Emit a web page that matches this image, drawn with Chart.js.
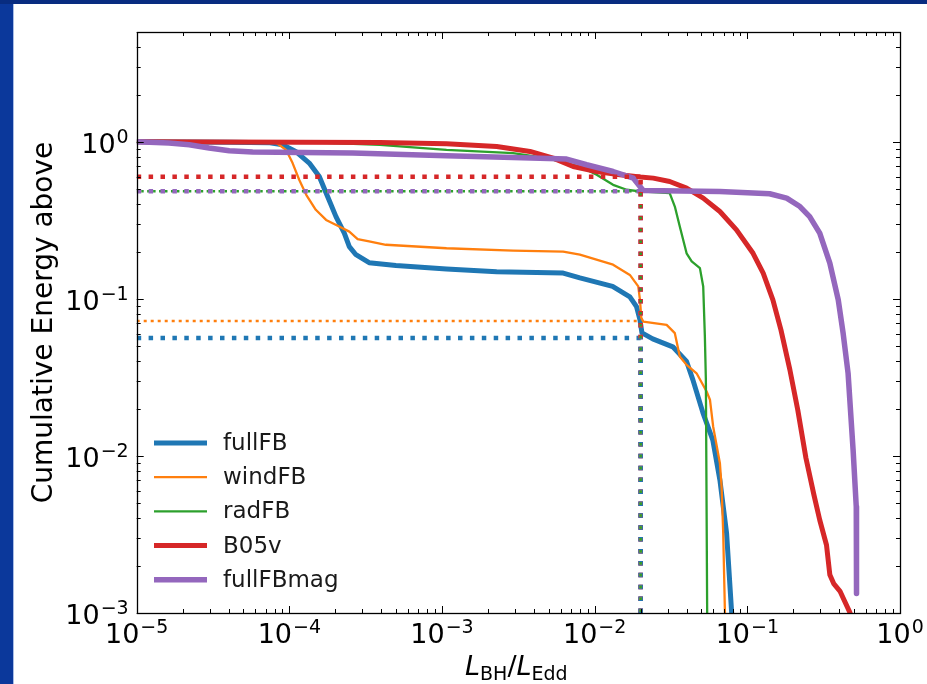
<!DOCTYPE html>
<html>
<head>
<meta charset="utf-8">
<script src="https://cdn.jsdelivr.net/npm/chart.js@4.4.1/dist/chart.umd.min.js"></script>
<style>
  html, body { margin: 0; padding: 0; }
  body { width: 927px; height: 684px; overflow: hidden; position: relative; background: #0b389b; }
  #topband { position: absolute; left: 0; top: 0; width: 927px; height: 4px; background: #082c80; }
  #panel { position: absolute; left: 14px; top: 4px; width: 913px; height: 680px; background: #fff; }
  #edge { position: absolute; left: 13px; top: 4px; width: 1px; height: 680px; background: #a9bde6; }
  #c { position: absolute; left: 0; top: 0; }
</style>
</head>
<body>
<div id="topband"></div>
<div id="panel"></div>
<div id="edge"></div>
<canvas id="c" width="927" height="684"></canvas>
<script>
/**************** DATA ****************/
const seriesNames = ["fullFB", "windFB", "radFB", "B05v", "fullFBmag"];
const seriesColors = ["#1f77b4", "#ff7f0e", "#2ca02c", "#d62728", "#9467bd"];
const seriesWidths = [5, 2.3, 2.3, 5, 5.5];

const fullFB_x = [1e-5, 4.08e-5, 7.46e-5, 9.03e-5, 1.10e-4, 1.35e-4, 1.57e-4, 1.78e-4, 2.02e-4, 2.29e-4, 2.47e-4, 2.73e-4, 3.33e-4, 4.99e-4, 1.07e-3, 2.28e-3, 6.22e-3, 8.0e-3, 1.31e-2, 1.70e-2, 1.88e-2, 1.98e-2, 2.04e-2, 2.40e-2, 3.25e-2, 4.0e-2, 4.40e-2, 5.12e-2, 5.94e-2, 6.61e-2, 7.31e-2, 7.95e-2];
const fullFB_y = [1.0, 0.993, 0.985, 0.957, 0.868, 0.732, 0.601, 0.448, 0.334, 0.262, 0.215, 0.191, 0.170, 0.163, 0.155, 0.149, 0.146, 0.136, 0.120, 0.103, 0.0893, 0.0735, 0.0607, 0.0556, 0.0495, 0.0399, 0.0305, 0.0188, 0.0126, 0.00703, 0.00323, 0.0009];

const windFB_x = [1e-5, 6.41e-5, 8.16e-5, 9.51e-5, 1.05e-4, 1.16e-4, 1.29e-4, 1.49e-4, 1.74e-4, 2.12e-4, 2.47e-4, 2.80e-4, 3.33e-4, 4.29e-4, 1.07e-3, 2.92e-3, 6.22e-3, 8.0e-3, 1.32e-2, 1.70e-2, 1.93e-2, 1.98e-2, 2.02e-2, 2.08e-2, 2.96e-2, 3.35e-2, 3.61e-2, 4.0e-2, 4.65e-2, 5.41e-2, 5.69e-2, 5.97e-2, 6.61e-2, 6.78e-2, 6.95e-2, 7.15e-2];
const windFB_y = [1.0, 1.0, 0.99, 0.889, 0.732, 0.573, 0.460, 0.369, 0.318, 0.289, 0.268, 0.240, 0.232, 0.221, 0.210, 0.203, 0.200, 0.191, 0.165, 0.142, 0.120, 0.0986, 0.0757, 0.0717, 0.0683, 0.0605, 0.0429, 0.038, 0.0336, 0.0257, 0.0228, 0.0154, 0.0090, 0.00638, 0.00322, 0.0009];

const radFB_x = [1e-5, 1.17e-4, 3.92e-4, 1.07e-3, 2.92e-3, 4.84e-3, 8.0e-3, 1.03e-2, 1.32e-2, 1.62e-2, 1.98e-2, 3.1e-2, 3.35e-2, 3.61e-2, 4.0e-2, 4.32e-2, 4.89e-2, 5.14e-2, 5.27e-2, 5.35e-2, 5.46e-2];
const radFB_y = [1.0, 1.0, 0.957, 0.889, 0.847, 0.787, 0.696, 0.616, 0.532, 0.495, 0.484, 0.471, 0.387, 0.289, 0.195, 0.173, 0.157, 0.120, 0.0575, 0.0305, 0.0009];

const B05v_x = [1e-5, 3.92e-4, 1.07e-3, 2.28e-3, 3.77e-3, 5.35e-3, 7.23e-3, 1.03e-2, 1.46e-2, 1.98e-2, 2.42e-2, 3.1e-2, 4.0e-2, 5.14e-2, 6.61e-2, 8.49e-2, 0.109, 0.127, 0.147, 0.166, 0.190, 0.214, 0.242, 0.273, 0.298, 0.330, 0.347, 0.369, 0.404, 0.469, 0.49];
const B05v_y = [1.0, 0.99, 0.971, 0.933, 0.868, 0.787, 0.696, 0.647, 0.616, 0.596, 0.587, 0.559, 0.507, 0.438, 0.360, 0.275, 0.195, 0.146, 0.0986, 0.0635, 0.0353, 0.0196, 0.0097, 0.00565, 0.00391, 0.00271, 0.00175, 0.00153, 0.00138, 0.00101, 0.0009];

const fullFBmag_x = [1e-5, 1.63e-5, 2.21e-5, 2.98e-5, 4.04e-5, 5.75e-5, 1.22e-4, 2.60e-4, 1.07e-3, 2.92e-3, 6.55e-3, 8.85e-3, 1.32e-2, 1.79e-2, 1.98e-2, 2.08e-2, 6.61e-2, 0.140, 0.181, 0.221, 0.256, 0.298, 0.347, 0.394, 0.424, 0.457, 0.493, 0.517, 0.519];
const fullFBmag_y = [1.0, 0.981, 0.957, 0.912, 0.877, 0.860, 0.855, 0.847, 0.814, 0.794, 0.776, 0.714, 0.647, 0.587, 0.519, 0.490, 0.483, 0.467, 0.438, 0.387, 0.334, 0.262, 0.169, 0.0986, 0.0605, 0.0336, 0.0109, 0.00475, 0.00133];

// dotted guides: level of each series at L/LEdd = guideX
const guideX = 0.02;
const guideLevels = [0.0564, 0.0724, 0.484, 0.598, 0.484];

const xMin = 1e-5, xMax = 1;
const yMin = 1e-3, yMax = 5;
const xMajorTicks = [1e-5, 1e-4, 1e-3, 1e-2, 1e-1, 1e0];
const xTickExps = ["\u22125", "\u22124", "\u22123", "\u22122", "\u22121", "0"];
const yMajorTicks = [1e-3, 1e-2, 1e-1, 1e0];
const yTickExps = ["\u22123", "\u22122", "\u22121", "0"];

/**************** DATASETS ****************/
const xsList = [fullFB_x, windFB_x, radFB_x, B05v_x, fullFBmag_x];
const ysList = [fullFB_y, windFB_y, radFB_y, B05v_y, fullFBmag_y];
const pts = (xs, ys) => xs.map((x, i) => ({ x, y: ys[i] }));

const base = { pointRadius: 0, tension: 0, fill: false, clip: 0, borderJoinStyle: "round" };
const datasets = [];

// solid curves (later series on top)
seriesNames.forEach((name, i) => {
  datasets.push(Object.assign({}, base, {
    label: name, legend: true,
    data: pts(xsList[i], ysList[i]),
    borderColor: seriesColors[i], borderWidth: seriesWidths[i],
    order: 20 - i
  }));
});

// horizontal dotted guides
const hStyles = [
  { w: 4.5, dash: [4.5, 7.4], off: 0 },
  { w: 2.5, dash: [3, 4], off: 0 },
  { w: 2.5, dash: [2.5, 3.45], off: -4.5 },
  { w: 4.5, dash: [4.5, 7.4], off: 0 },
  { w: 4.5, dash: [4.5, 7.4], off: 0 }
];
seriesNames.forEach((name, i) => {
  datasets.push(Object.assign({}, base, {
    label: name + " level",
    data: [{ x: xMin, y: guideLevels[i] }, { x: guideX, y: guideLevels[i] }],
    borderColor: seriesColors[i], borderWidth: hStyles[i].w,
    borderDash: hStyles[i].dash, borderDashOffset: hStyles[i].off, borderCapStyle: "butt",
    order: 14 - i
  }));
});

// vertical dotted guides (drawn from the bottom up)
const vStyles = [
  { w: 4.5, dash: [4.5, 7.4], off: 0, order: 3 },
  { w: 2.5, dash: [2.5, 9.4], off: -1, order: 2 },
  { w: 2.5, dash: [2.5, 9.4], off: -1, order: 1 },
  { w: 4.5, dash: [4.5, 7.4], off: 0, order: 4 },
  { w: 4.5, dash: [4.5, 7.4], off: 0, order: 5 }
];
seriesNames.forEach((name, i) => {
  datasets.push(Object.assign({}, base, {
    label: name + " drop",
    data: [{ x: guideX, y: yMin }, { x: guideX, y: guideLevels[i] }],
    borderColor: seriesColors[i], borderWidth: vStyles[i].w,
    borderDash: vStyles[i].dash, borderDashOffset: vStyles[i].off, borderCapStyle: "butt",
    order: vStyles[i].order
  }));
});

/**************** HELPERS ****************/
const FONT = "'DejaVu Sans', sans-serif";

function drawPow(ctx, exp, x, baseline, align) {
  ctx.font = "27px " + FONT;
  const wb = ctx.measureText("10").width;
  ctx.font = "19px " + FONT;
  const we = ctx.measureText(exp).width;
  const total = wb + we + 1;
  let left = x;
  if (align === "center") left = x - total / 2;
  if (align === "right") left = x - total;
  ctx.textAlign = "left";
  ctx.textBaseline = "alphabetic";
  ctx.font = "27px " + FONT;
  ctx.fillText("10", left, baseline);
  ctx.font = "19px " + FONT;
  ctx.fillText(exp, left + wb + 1, baseline - 10);
}

/**************** PLUGINS ****************/
const axesPlugin = {
  id: "axesPlugin",
  afterDatasetsDraw(chart) {
    const { ctx, chartArea: a, scales: { x, y } } = chart;
    ctx.save();
    ctx.strokeStyle = "#000";
    ctx.fillStyle = "#000";
    ctx.lineWidth = 1;

    const xTick = (v, len) => {
      const px = Math.round(x.getPixelForValue(v)) + 0.5;
      ctx.beginPath();
      ctx.moveTo(px, a.bottom); ctx.lineTo(px, a.bottom - len);
      ctx.moveTo(px, a.top); ctx.lineTo(px, a.top + len);
      ctx.stroke();
    };
    const yTick = (v, len) => {
      const py = Math.round(y.getPixelForValue(v)) + 0.5;
      ctx.beginPath();
      ctx.moveTo(a.left, py); ctx.lineTo(a.left + len, py);
      ctx.moveTo(a.right, py); ctx.lineTo(a.right - len, py);
      ctx.stroke();
    };

    xMajorTicks.forEach(v => xTick(v, 7));
    for (let d = -5; d < 0; d++) {
      for (let m = 2; m <= 9; m++) xTick(m * Math.pow(10, d), 4);
    }
    yMajorTicks.forEach(v => yTick(v, 7));
    for (let d = -3; d <= 0; d++) {
      for (let m = 2; m <= 9; m++) {
        const v = m * Math.pow(10, d);
        if (v <= yMax) yTick(v, 4);
      }
    }

    // frame
    ctx.lineWidth = 1.3;
    ctx.strokeRect(Math.round(a.left) + 0.5, Math.round(a.top) + 0.5,
      Math.round(a.right - a.left), Math.round(a.bottom - a.top));

    // tick labels
    xMajorTicks.forEach((v, i) => drawPow(ctx, xTickExps[i], x.getPixelForValue(v), a.bottom + 30, "center"));
    yMajorTicks.forEach((v, i) => drawPow(ctx, yTickExps[i], a.left - 8, y.getPixelForValue(v) + 11, "right"));

    // y title
    ctx.save();
    ctx.translate(52, (a.top + a.bottom) / 2);
    ctx.rotate(-Math.PI / 2);
    ctx.font = "28px " + FONT;
    ctx.textAlign = "center";
    ctx.textBaseline = "alphabetic";
    ctx.fillText("Cumulative Energy above", 0, 0);
    ctx.restore();

    // x title: L_BH / L_Edd
    const parts = [
      { t: "L", f: "italic 27px " + FONT, dy: 0 },
      { t: "BH", f: "19px " + FONT, dy: 5 },
      { t: "/", f: "27px " + FONT, dy: 0 },
      { t: "L", f: "italic 27px " + FONT, dy: 0 },
      { t: "Edd", f: "19px " + FONT, dy: 5 }
    ];
    let tw = 0;
    parts.forEach(p => { ctx.font = p.f; p.w = ctx.measureText(p.t).width; tw += p.w; });
    let cx = (a.left + a.right) / 2 - tw / 2 - 2;
    const by = 675;
    ctx.textAlign = "left";
    parts.forEach(p => { ctx.font = p.f; ctx.fillText(p.t, cx, by + p.dy); cx += p.w; });

    // legend
    const legendSets = chart.data.datasets.filter(d => d.legend);
    legendSets.forEach((d, i) => {
      const ly = 443 + i * 34.2;
      ctx.beginPath();
      ctx.setLineDash([]);
      ctx.lineCap = "butt";
      ctx.strokeStyle = d.borderColor;
      ctx.lineWidth = d.borderWidth;
      ctx.moveTo(154, ly); ctx.lineTo(207, ly);
      ctx.stroke();
      ctx.fillStyle = "#1a1a1a";
      ctx.font = "23px " + FONT;
      ctx.textBaseline = "middle";
      ctx.fillText(d.label, 223, ly + 1);
    });
    ctx.restore();
  }
};

/**************** CHART ****************/
new Chart(document.getElementById("c"), {
  type: "line",
  data: { datasets },
  options: {
    responsive: false,
    animation: false,
    layout: { padding: { left: 136.7, top: 32, right: 27, bottom: 71 } },
    plugins: { legend: { display: false }, tooltip: { enabled: false } },
    scales: {
      x: { type: "logarithmic", min: xMin, max: xMax, display: false },
      y: { type: "logarithmic", min: yMin, max: yMax, display: false }
    }
  },
  plugins: [axesPlugin]
});
</script>
</body>
</html>
